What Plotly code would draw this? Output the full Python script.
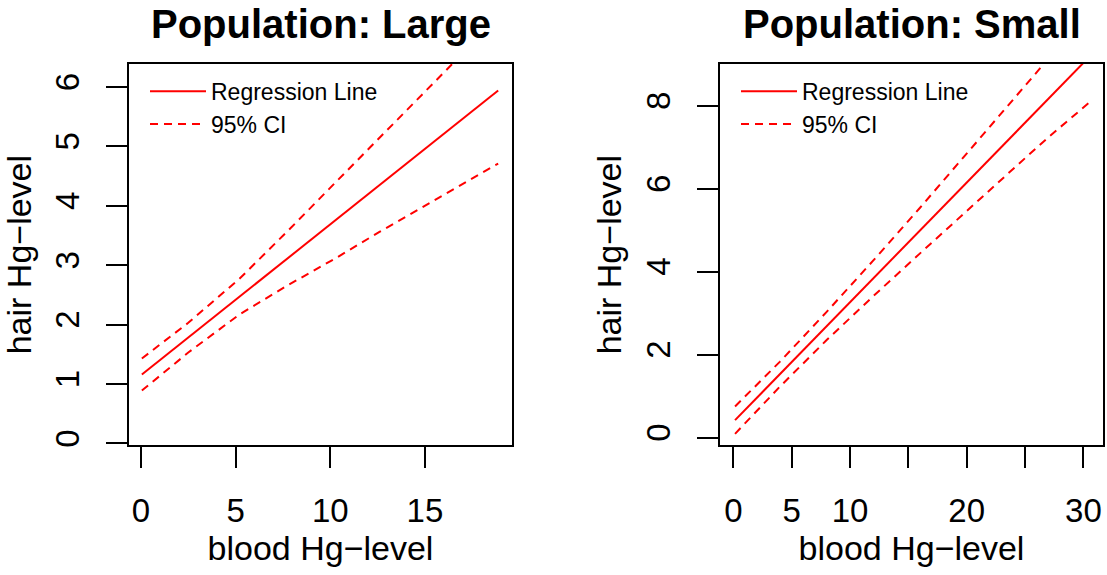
import plotly.graph_objects as go

# ---- Population: Large -------------------------------------------------
large_fit_x = [0.05, 18.87]
large_fit_y = [1.16, 5.94]
large_ci_x = [0.05, 2.5, 5.2, 7.8, 10.3, 12.6, 14.9, 16.9, 18.87]
large_ci_upper = [1.43, 2.03, 2.77, 3.59, 4.40, 5.14, 5.88, 6.53, 7.17]
large_ci_lower = [0.89, 1.53, 2.17, 2.67, 3.12, 3.56, 3.98, 4.35, 4.71]

# ---- Population: Small -------------------------------------------------
small_fit_x = [0.15, 30.48]
small_fit_y = [0.42, 9.17]
small_ci_x = [0.15, 4, 8, 12, 16, 20, 24, 27, 30.48]
small_ci_upper = [0.75, 1.83, 3.03, 4.27, 5.54, 6.83, 8.12, 9.10, 10.27]
small_ci_lower = [0.09, 1.23, 2.35, 3.41, 4.44, 5.47, 6.48, 7.24, 8.07]

# axis ticks
large_xticks = [0, 5, 10, 15]
large_yticks = [0, 1, 2, 3, 4, 5, 6]
small_xticks = [0, 5, 10, 15, 20, 25, 30]
small_xlabels = ["0", "5", "10", "", "20", "", "30"]
small_yticks = [0, 2, 4, 6, 8]

W, H = 1107, 575
FONT = "Liberation Sans, Arial, Helvetica, sans-serif"
RED = "#ff0000"
DASH = "8px,6px"


def band(xs, upper, lower):
    """Upper and lower bounds joined into one trace, split by a gap."""
    return list(xs) + [None] + list(xs), list(upper) + [None] + list(lower)


fig = go.Figure()

ci_x, ci_y = band(large_ci_x, large_ci_upper, large_ci_lower)
fig.add_trace(go.Scatter(x=large_fit_x, y=large_fit_y, mode="lines",
                         name="Regression Line", line=dict(color=RED, width=2),
                         xaxis="x", yaxis="y", legend="legend"))
fig.add_trace(go.Scatter(x=ci_x, y=ci_y, mode="lines", name="95% CI",
                         connectgaps=False,
                         line=dict(color=RED, width=2, dash=DASH),
                         xaxis="x", yaxis="y", legend="legend"))

ci_x, ci_y = band(small_ci_x, small_ci_upper, small_ci_lower)
fig.add_trace(go.Scatter(x=small_fit_x, y=small_fit_y, mode="lines",
                         name="Regression Line", line=dict(color=RED, width=2),
                         xaxis="x2", yaxis="y2", legend="legend2"))
fig.add_trace(go.Scatter(x=ci_x, y=ci_y, mode="lines", name="95% CI",
                         connectgaps=False,
                         line=dict(color=RED, width=2, dash=DASH),
                         xaxis="x2", yaxis="y2", legend="legend2"))

# plot-box geometry in pixels
L_LEFT, L_RIGHT = 129, 512
R_LEFT, R_RIGHT = 720, 1103
TOP, BOTTOM = 64, 447
ydom = [1 - BOTTOM / H, 1 - TOP / H]

common_x = dict(showline=True, mirror=True, linecolor="black", linewidth=1.6,
                ticks="outside", ticklen=21, tickwidth=1.6, tickcolor="black",
                showgrid=False, zeroline=False, tickmode="array",
                tickfont=dict(family=FONT, size=33, color="black"),
                ticklabelstandoff=14,
                title=dict(font=dict(family=FONT, size=34, color="black"),
                           standoff=8))
common_y = dict(showline=True, mirror=True, linecolor="black", linewidth=1.6,
                ticks="outside", ticklen=21, tickwidth=1.6, tickcolor="black",
                showgrid=False, zeroline=False, tickmode="array", tickangle=-90,
                tickfont=dict(family=FONT, size=33, color="black"),
                ticklabelstandoff=14,
                title=dict(text="hair Hg\u2212level",
                           font=dict(family=FONT, size=34, color="black"),
                           standoff=8))

legend_style = dict(xanchor="left", yanchor="top", bgcolor="rgba(0,0,0,0)",
                    tracegroupgap=0, itemwidth=56,
                    font=dict(family=FONT, size=23, color="black"))

fig.update_layout(
    width=W, height=H,
    margin=dict(l=0, r=0, t=0, b=0),
    paper_bgcolor="white", plot_bgcolor="white",
    font=dict(family=FONT, color="black"),
    xaxis=dict(common_x, domain=[L_LEFT / W, L_RIGHT / W], anchor="y",
               range=[-0.63, 19.6], tickvals=large_xticks,
               ticktext=[str(v) for v in large_xticks],
               title_text="blood Hg\u2212level"),
    yaxis=dict(common_y, domain=ydom, anchor="x", range=[-0.034, 6.39],
               tickvals=large_yticks, ticktext=[str(v) for v in large_yticks]),
    xaxis2=dict(common_x, domain=[R_LEFT / W, R_RIGHT / W], anchor="y2",
                range=[-1.14, 31.68], tickvals=small_xticks,
                ticktext=small_xlabels, title_text="blood Hg\u2212level"),
    yaxis2=dict(common_y, domain=ydom, anchor="x2", range=[-0.19, 9.01],
                tickvals=small_yticks, ticktext=[str(v) for v in small_yticks]),
    legend=dict(legend_style, x=145 / W, y=1 - 70 / H),
    legend2=dict(legend_style, x=736 / W, y=1 - 70 / H),
    annotations=[
        dict(text="Population: Large", x=(L_LEFT + L_RIGHT) / 2 / W,
             y=1 - 24 / H, xref="paper", yref="paper", showarrow=False,
             xanchor="center", yanchor="middle",
             font=dict(family=FONT, size=40, color="black", weight="bold")),
        dict(text="Population: Small", x=(R_LEFT + R_RIGHT) / 2 / W,
             y=1 - 24 / H, xref="paper", yref="paper", showarrow=False,
             xanchor="center", yanchor="middle",
             font=dict(family=FONT, size=40, color="black", weight="bold")),
    ],
)

fig.write_html("out.html")
